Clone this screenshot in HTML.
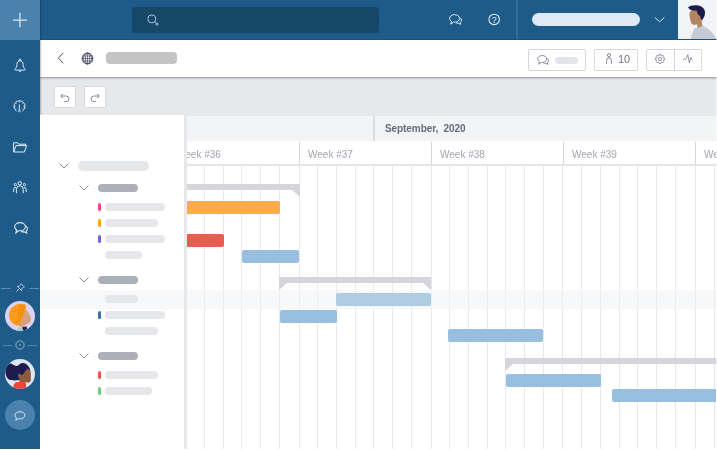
<!DOCTYPE html>
<html><head><meta charset="utf-8">
<style>
*{box-sizing:border-box;margin:0;padding:0}
html,body{width:717px;height:450px;overflow:hidden;background:#fff;font-family:"Liberation Sans",sans-serif}
.a{position:absolute}
#root{position:relative;width:717px;height:450px;overflow:hidden;background:#fff}
.pill{position:absolute;border-radius:6px;background:#e6e7eb}
.gp{position:absolute;border-radius:4px;background:#adb0b8;height:8px;left:98px;width:40px}
.tp{position:absolute;border-radius:4px;background:#e6e7eb;height:8px;left:105px}
.mk{position:absolute;border-radius:1.5px;width:3px;height:8px;left:98px}
.bar{position:absolute;border-radius:2px;background:#98bfdf;height:13px}
.sum{position:absolute;background:#d5d6dc;height:6px}
.btn{position:absolute;background:#fff;border:1px solid #d4d6de;border-radius:2px}
svg{position:absolute;overflow:visible}
</style></head><body>
<div id="root">

<!-- toolbar grey -->
<div class="a" style="left:40px;top:77px;width:677px;height:39px;background:#e7e8ec"></div>
<!-- timeline month row -->
<div class="a" style="left:187px;top:116px;width:530px;height:25px;background:#f3f4f6"></div>
<div class="a" style="left:373px;top:116px;width:2px;height:25px;background:#dcdde3"></div>
<div class="a" style="left:385px;top:121.5px;font-size:10px;font-weight:bold;color:#666a7c;white-space:pre;line-height:14px;letter-spacing:-0.08px">September,  2020</div>
<!-- grid (svg) -->
<svg id="grid" style="left:0;top:0" width="717" height="450"><rect x="204" y="166" width="1" height="283" fill="#e8e9ee"/><rect x="223" y="166" width="1" height="283" fill="#e8e9ee"/><rect x="241" y="166" width="1" height="283" fill="#e8e9ee"/><rect x="260" y="166" width="1" height="283" fill="#e8e9ee"/><rect x="279" y="166" width="1" height="283" fill="#e8e9ee"/><rect x="299" y="166" width="1" height="283" fill="#e8e9ee"/><rect x="317" y="166" width="1" height="283" fill="#e8e9ee"/><rect x="336" y="166" width="1" height="283" fill="#e8e9ee"/><rect x="355" y="166" width="1" height="283" fill="#e8e9ee"/><rect x="373" y="166" width="1" height="283" fill="#e8e9ee"/><rect x="392" y="166" width="1" height="283" fill="#e8e9ee"/><rect x="411" y="166" width="1" height="283" fill="#e8e9ee"/><rect x="431" y="166" width="1" height="283" fill="#e8e9ee"/><rect x="449" y="166" width="1" height="283" fill="#e8e9ee"/><rect x="468" y="166" width="1" height="283" fill="#e8e9ee"/><rect x="487" y="166" width="1" height="283" fill="#e8e9ee"/><rect x="505" y="166" width="1" height="283" fill="#e8e9ee"/><rect x="524" y="166" width="1" height="283" fill="#e8e9ee"/><rect x="543" y="166" width="1" height="283" fill="#e8e9ee"/><rect x="562" y="166" width="1" height="283" fill="#e8e9ee"/><rect x="581" y="166" width="1" height="283" fill="#e8e9ee"/><rect x="600" y="166" width="1" height="283" fill="#e8e9ee"/><rect x="619" y="166" width="1" height="283" fill="#e8e9ee"/><rect x="637" y="166" width="1" height="283" fill="#e8e9ee"/><rect x="656" y="166" width="1" height="283" fill="#e8e9ee"/><rect x="675" y="166" width="1" height="283" fill="#e8e9ee"/><rect x="695" y="166" width="1" height="283" fill="#e8e9ee"/><rect x="714" y="166" width="1" height="283" fill="#e8e9ee"/></svg>
<!-- week row -->
<div class="a" style="left:187px;top:141px;width:530px;height:23px;background:#fff"></div>
<div class="a" style="left:187px;top:164px;width:530px;height:2px;background:#e4e5ea"></div>
<div class="a wk" style="left:176px">Week #36</div>
<div class="a wk" style="left:308px">Week #37</div>
<div class="a wk" style="left:440px">Week #38</div>
<div class="a wk" style="left:572px">Week #39</div>
<div class="a wk" style="left:704px">Week #40</div>
<div class="a ws" style="left:299px"></div>
<div class="a ws" style="left:431px"></div>
<div class="a ws" style="left:563px"></div>
<div class="a ws" style="left:695px"></div>
<style>
.wk{top:148px;font-size:10px;color:#a3a6b3;line-height:14px;white-space:pre}
.ws{top:142px;width:1px;height:22px;background:#d4d6de}
</style>

<!-- highlight row -->
<div class="a" style="left:40px;top:290px;width:677px;height:19px;background:rgba(240,242,246,0.55)"></div>

<!-- summary bars -->
<div class="sum" style="left:187px;top:184px;width:113px"></div>
<svg style="left:292px;top:190px" width="8" height="7"><polygon points="0,0 8,0 8,7" fill="#d5d6dc"/></svg>
<div class="sum" style="left:279px;top:277px;width:152px"></div>
<svg style="left:279px;top:283px" width="8" height="7"><polygon points="0,0 8,0 0,7" fill="#d5d6dc"/></svg>
<svg style="left:423px;top:283px" width="8" height="7"><polygon points="0,0 8,0 8,7" fill="#d5d6dc"/></svg>
<div class="sum" style="left:505px;top:358px;width:212px"></div>
<svg style="left:505px;top:364px" width="8" height="7"><polygon points="0,0 8,0 0,7" fill="#d5d6dc"/></svg>

<!-- bars -->
<div class="bar" style="left:187px;top:201px;width:93px;background:#ffab4a;border-radius:0 2px 2px 0"></div>
<div class="bar" style="left:187px;top:234px;width:37px;background:#e85d50;border-radius:0 2px 2px 0"></div>
<div class="bar" style="left:242px;top:250px;width:57px"></div>
<div class="bar" style="left:336px;top:293px;width:95px;background:#aecde3"></div>
<div class="bar" style="left:280px;top:310px;width:57px"></div>
<div class="bar" style="left:448px;top:329px;width:95px"></div>
<div class="bar" style="left:506px;top:374px;width:95px"></div>
<div class="bar" style="left:612px;top:389px;width:104px;border-radius:2px 0 0 2px"></div>

<!-- left panel -->
<div class="a" style="left:40px;top:115px;width:144px;height:175px;background:#fff"></div>
<div class="a" style="left:40px;top:309px;width:144px;height:141px;background:#fff"></div>
<div class="a" style="left:184px;top:115px;width:3px;height:335px;background:#e7e8ec"></div>

<svg style="left:59px;top:163px" width="10" height="6"><polyline points="0.5,0.5 5,5 9.5,0.5" fill="none" stroke="#8e919e" stroke-width="1"/></svg>
<div class="pill" style="left:78px;top:161px;width:71px;height:10px"></div>

<svg style="left:79px;top:185px" width="10" height="6"><polyline points="0.5,0.5 5,5 9.5,0.5" fill="none" stroke="#8e919e" stroke-width="1"/></svg>
<div class="gp" style="top:184px"></div>
<div class="mk" style="top:203px;background:#f0468a"></div><div class="tp" style="top:203px;width:60px"></div>
<div class="mk" style="top:219px;background:#ffa31a"></div><div class="tp" style="top:219px;width:53px"></div>
<div class="mk" style="top:235px;background:#7c5fe6"></div><div class="tp" style="top:235px;width:60px"></div>
<div class="tp" style="top:251px;width:37px"></div>

<svg style="left:79px;top:277px" width="10" height="6"><polyline points="0.5,0.5 5,5 9.5,0.5" fill="none" stroke="#8e919e" stroke-width="1"/></svg>
<div class="gp" style="top:276px"></div>
<div class="tp" style="top:295px;width:33px"></div>
<div class="mk" style="top:311px;background:#3a6fa5"></div><div class="tp" style="top:311px;width:60px"></div>
<div class="tp" style="top:327px;width:53px"></div>

<svg style="left:79px;top:353px" width="10" height="6"><polyline points="0.5,0.5 5,5 9.5,0.5" fill="none" stroke="#8e919e" stroke-width="1"/></svg>
<div class="gp" style="top:352px"></div>
<div class="mk" style="top:371px;background:#e85d50"></div><div class="tp" style="top:371px;width:53px"></div>
<div class="mk" style="top:387px;background:#6fcf7a"></div><div class="tp" style="top:387px;width:47px"></div>

<!-- undo redo -->
<div class="btn" style="left:54px;top:86px;width:22px;height:22px;border-color:#dadbe2"></div>
<div class="btn" style="left:84px;top:86px;width:22px;height:22px;border-color:#dadbe2"></div>
<svg style="left:60px;top:92.5px" width="10" height="10" viewBox="0 0 10 10"><path d="M3.2,0.8 L0.8,3 L3.2,5.2 M0.8,3 H6.2 A2.8,2.8 0 0 1 6.2,8.6 H4.2" fill="none" stroke="#7d808f" stroke-width="0.9"/></svg>
<svg style="left:90px;top:92.5px" width="10" height="10" viewBox="0 0 10 10"><path d="M6.8,0.8 L9.2,3 L6.8,5.2 M9.2,3 H3.8 A2.8,2.8 0 0 0 3.8,8.6 H5.8" fill="none" stroke="#7d808f" stroke-width="0.9"/></svg>

<!-- header white -->
<div class="a" style="left:40px;top:40px;width:677px;height:37px;background:#fff;box-shadow:0 1px 2px rgba(50,52,60,0.5)"></div>
<svg style="left:57px;top:52px" width="7" height="12"><polyline points="6.2,0.9 1.4,6.1 6.2,11.3" fill="none" stroke="#4b4e66" stroke-width="0.95"/></svg>
<svg style="left:80.75px;top:51.6px" width="13" height="13" viewBox="0 0 13 13"><g fill="none" stroke="#3a3d55" stroke-width="0.65"><circle cx="6.5" cy="6.5" r="5.4" stroke-width="0.95"/><ellipse cx="6.5" cy="6.5" rx="2.1" ry="5.4"/><ellipse cx="6.5" cy="6.5" rx="4.1" ry="5.4"/><path d="M6.5,1V12M1,6.5H12M1.8,4H11.2M1.8,9H11.2"/></g></svg>
<div class="a" style="left:106px;top:52px;width:71px;height:12px;border-radius:4px;background:#c4c4c4"></div>

<div class="btn" style="left:528px;top:49px;width:58px;height:22px"></div>
<svg style="left:537px;top:55px" width="12" height="10" viewBox="0 0 13 11"><g fill="none" stroke="#777a8a" stroke-width="0.95"><path d="M5.6,0.6 C2.8,0.6 0.6,2.3 0.6,4.4 C0.6,5.6 1.3,6.7 2.4,7.4 L1.7,10.2 L4.5,8.1 C4.9,8.2 5.2,8.2 5.6,8.2 C8.4,8.2 10.6,6.5 10.6,4.4 C10.6,2.3 8.4,0.6 5.6,0.6 Z"/><path d="M11,3.6 C12,4.3 12.5,5.2 12.5,6.2 C12.5,7.1 12.1,7.9 11.3,8.5 L11.8,10.3 L9.3,9.2 C8.4,9.3 7.5,9.1 6.8,8.8"/></g></svg>
<div class="a" style="left:555px;top:57px;width:23px;height:7px;border-radius:3.5px;background:#e4e5ea"></div>

<div class="btn" style="left:594px;top:49px;width:44px;height:22px"></div>
<svg style="left:606px;top:53px" width="6" height="11" viewBox="0 0 6 11"><g fill="none" stroke="#777a8a" stroke-width="0.9"><circle cx="3" cy="2.2" r="1.6"/><path d="M0.6,10.8 V7.2 A2.4,2.4 0 0 1 5.4,7.2 V10.8"/></g></svg>
<div class="a" style="left:618px;top:52px;font-size:11px;color:#6e7182;line-height:15px">10</div>

<div class="btn" style="left:646px;top:49px;width:56px;height:22px"></div>
<div class="a" style="left:674px;top:50px;width:1px;height:20px;background:#d4d6de"></div>
<svg style="left:655px;top:54px" width="10" height="10" viewBox="0 0 10 10"><g fill="none" stroke="#7a7d8c" stroke-width="0.8" stroke-linejoin="round"><circle cx="5" cy="5" r="1.6"/><path d="M4.19,0.37 L5.81,0.37 L5.84,1.50 L6.88,1.93 L7.70,1.15 L8.85,2.30 L8.07,3.12 L8.50,4.16 L9.63,4.19 L9.63,5.81 L8.50,5.84 L8.07,6.88 L8.85,7.70 L7.70,8.85 L6.88,8.07 L5.84,8.50 L5.81,9.63 L4.19,9.63 L4.16,8.50 L3.12,8.07 L2.30,8.85 L1.15,7.70 L1.93,6.88 L1.50,5.84 L0.37,5.81 L0.37,4.19 L1.50,4.16 L1.93,3.12 L1.15,2.30 L2.30,1.15 L3.12,1.93 L4.16,1.50 Z"/></g></svg>
<svg style="left:683px;top:54px" width="10" height="10" viewBox="0 0 10 10"><path d="M0.3,5.6 C0.8,4.2 1.6,4.2 2,5.2 C2.3,6 2.9,5.6 3.2,4.6 L4.8,0.6 L6.4,9 L7.8,3.4 L9.6,6.2" fill="none" stroke="#777a8a" stroke-width="0.8" stroke-linejoin="round"/></svg>

<!-- top bar -->
<div class="a" style="left:0;top:0;width:717px;height:40px;background:#1f5b88"></div>

<div class="a" style="left:132px;top:7px;width:247px;height:26px;border-radius:3px;background:#164668"></div>
<svg style="left:147px;top:14px" width="13" height="13" viewBox="0 0 13 13"><g fill="none" stroke="#b9d0e4" stroke-width="0.9"><circle cx="4.8" cy="4.9" r="4"/><path d="M7.7,7.8 L9.2,9.3"/><circle cx="10" cy="10.1" r="1.05"/></g></svg>
<svg style="left:449px;top:14px" width="13" height="11" viewBox="0 0 13 11"><g fill="none" stroke="#e4eef7" stroke-width="1"><path d="M5.6,0.6 C2.8,0.6 0.6,2.3 0.6,4.4 C0.6,5.6 1.3,6.7 2.4,7.4 L1.7,10.2 L4.5,8.1 C4.9,8.2 5.2,8.2 5.6,8.2 C8.4,8.2 10.6,6.5 10.6,4.4 C10.6,2.3 8.4,0.6 5.6,0.6 Z"/><path d="M11,3.6 C12,4.3 12.5,5.2 12.5,6.2 C12.5,7.1 12.1,7.9 11.3,8.5 L11.8,10.3 L9.3,9.2 C8.4,9.3 7.5,9.1 6.8,8.8"/></g></svg>
<svg style="left:488px;top:13px" width="13" height="13" viewBox="0 0 13 13"><circle cx="6.2" cy="6.4" r="5.2" fill="none" stroke="#eaf2f9" stroke-width="1.05"/><text x="6.2" y="9.5" font-size="9" font-family="Liberation Sans, sans-serif" fill="#eaf2f9" text-anchor="middle">?</text></svg>
<div class="a" style="left:516px;top:0;width:2px;height:39px;background:#316b9a"></div>
<div class="a" style="left:531.5px;top:13px;width:108.5px;height:13px;border-radius:6.5px;background:#ddeaf5"></div>
<svg style="left:654px;top:17px" width="11" height="6"><polyline points="0.8,0.4 5.6,4.8 10.4,0.4" fill="none" stroke="#dbe7f2" stroke-width="1"/></svg>
<!-- user avatar -->
<svg style="left:678px;top:0" width="39" height="39" viewBox="0 0 39 39">
<rect width="39" height="39" fill="#f2f3f6"/>
<path d="M12.5,39 L16,28.5 L24.5,25.7 C30,27.5 35,33 38.5,39 Z" fill="#c3ccd6"/>
<path d="M19,22 L19.5,28 L24.5,25.7 L23,18 Z" fill="#b08560"/>
<path d="M11.5,13 C11.5,9 23,9 23.5,14 L23,20 C22,24 17,25.5 14.5,24.5 C12.5,23 11.5,18 11.5,13 Z" fill="#b08560"/>
<path d="M10,7.5 C13,4.5 24,4 26.5,10 C28,14 26,18.5 23.5,20.5 L22,16 C20,15 19,12.5 18.5,10.5 C15.5,11 12,10.5 10,7.5 Z" fill="#1d1b4c"/>
</svg>

<div class="a" style="left:40px;top:38.6px;width:677px;height:1.4px;background:#1b527e"></div>
<!-- sidebar -->
<div class="a" style="left:0;top:0;width:40px;height:449px;background:#1f5b88"></div>
<div class="a" style="left:40px;top:0px;width:2px;height:115px;background:linear-gradient(90deg,rgba(0,0,0,0.25),rgba(0,0,0,0))"></div>
<div class="a" style="left:0;top:0;width:40px;height:40px;background:#4a81ad"></div>
<svg style="left:13px;top:13px" width="14" height="14"><path d="M6.9,0V14M0,7H14" stroke="#dce8f3" stroke-width="1.25" fill="none"/></svg>

<!-- bell -->
<svg style="left:14px;top:58.4px" width="12" height="15" viewBox="0 0 12 15"><g fill="none" stroke="#e3edf6" stroke-width="1" stroke-linejoin="round"><path d="M6,2.9 C3.9,2.9 2.9,4.5 2.9,6.4 C2.9,8.6 2.5,9.6 1.3,10.6 C0.7,11.2 0.9,12.1 1.7,12.1 H10.3 C11.1,12.1 11.3,11.2 10.7,10.6 C9.5,9.6 9.1,8.6 9.1,6.4 C9.1,4.5 8.1,2.9 6,2.9 Z"/><path d="M5,2.9 V2.1 a1,1 0 0 1 2,0 V2.9"/><path d="M5.1,13 Q6,14.7 6.9,13"/></g></svg>
<!-- gauge -->
<svg style="left:13.3px;top:99.5px" width="13" height="13" viewBox="0 0 13 13"><g fill="none" stroke="#e3edf6" stroke-width="1"><path d="M3.59,10.96 A5.5,5.5 0 1 1 9.41,10.96"/><path d="M6.4,4.4 V10" stroke-width="0.9"/><circle cx="6.4" cy="11" r="0.9" stroke-width="0.8"/><path d="M6.50,1.30 L6.50,2.50 M10.04,2.76 L9.19,3.61 M2.96,2.76 L3.81,3.61 M11.50,6.30 L10.30,6.30 M1.50,6.30 L2.70,6.30 M10.60,9.17 L9.61,8.48 M2.40,9.17 L3.39,8.48" stroke-width="0.7"/></g></svg>
<!-- folder -->
<svg style="left:13px;top:141.6px" width="14" height="11" viewBox="0 0 14 11"><g fill="none" stroke="#e3edf6" stroke-width="1" stroke-linejoin="round"><path d="M0.6,10 V0.8 H4.6 L5.6,2.2 H12.6 V3.6"/><path d="M0.8,10 L3,3.6 H13.6 L11.4,10 Z"/></g></svg>
<!-- people -->
<svg style="left:13px;top:181px" width="14" height="13" viewBox="0 0 14 13"><g fill="none" stroke="#e3edf6" stroke-width="1"><circle cx="6.8" cy="2.2" r="1.7"/><circle cx="2.4" cy="3.6" r="1.15"/><circle cx="11.4" cy="3.6" r="1.15"/><path d="M3.4,12.2 V8.2 A3.4,3.4 0 0 1 10.2,8.2 V12.2"/><path d="M0.6,11 V8.6 A2.3,2.3 0 0 1 3,6.4"/><path d="M13.2,11 V8.6 A2.3,2.3 0 0 0 10.8,6.4"/></g></svg>
<!-- chat -->
<svg style="left:13.5px;top:222px" width="14" height="11.8" viewBox="0 0 13 11"><g fill="none" stroke="#e3edf6" stroke-width="1"><path d="M5.6,0.6 C2.8,0.6 0.6,2.3 0.6,4.4 C0.6,5.6 1.3,6.7 2.4,7.4 L1.7,10.2 L4.5,8.1 C4.9,8.2 5.2,8.2 5.6,8.2 C8.4,8.2 10.6,6.5 10.6,4.4 C10.6,2.3 8.4,0.6 5.6,0.6 Z"/><path d="M11,3.6 C12,4.3 12.5,5.2 12.5,6.2 C12.5,7.1 12.1,7.9 11.3,8.5 L11.8,10.3 L9.3,9.2 C8.4,9.3 7.5,9.1 6.8,8.8"/></g></svg>

<!-- pin -->
<div class="a" style="left:1px;top:288px;width:10px;height:1px;background:#568fba"></div>
<div class="a" style="left:29px;top:288px;width:10px;height:1px;background:#568fba"></div>
<svg style="left:16px;top:283px" width="9" height="9" viewBox="0 0 9 9"><g fill="none" stroke="#cfe0ee" stroke-width="0.8" stroke-linejoin="round"><path d="M5,0.6 L8.4,4 L7.2,4.4 L5.6,6 L5.6,7.6 L1.4,3.4 L3,3.4 L4.6,1.8 Z"/><path d="M3.4,5.6 L0.5,8.5"/></g></svg>
<!-- avatar 1 -->
<svg style="left:5px;top:301px" width="30" height="30" viewBox="0 0 30 30">
<defs><clipPath id="c1"><circle cx="15" cy="15" r="15"/></clipPath></defs>
<g clip-path="url(#c1)"><rect width="30" height="30" fill="#dcd3f2"/>
<path d="M21,8.2 C23,11 25.6,14.5 26,17.8 C26.3,20.6 23.6,23 20.4,23.4 L18.8,26.4 L13.5,25 Z" fill="#d7a17e"/>
<path d="M10.6,30 C11.8,28 13.5,26.3 16.6,26.4 L18.4,27.6 L17.8,30 Z" fill="#9ed3cd"/>
<path d="M17.2,26.2 L21.6,25.6 L22,28.2 L18.2,29.4 Z" fill="#1d1b4c"/>
<path d="M9.4,4.8 C11,3.3 14,2.6 16.2,2.8 L21,3.8 L21,8.2 L14.4,24.4 L12.2,24.6 C8,24 4,19.5 4,13.8 C4,9.6 6.5,6.4 9.4,4.8 Z" fill="#ff9b1c"/>
<path d="M14.6,3 L12.4,22 M17,3.2 L14.6,21 M19.2,3.6 L16.6,17" stroke="#e3820c" stroke-width="0.8" fill="none"/>
</g></svg>
<!-- clock -->
<div class="a" style="left:3px;top:345px;width:9px;height:1px;background:#4d86b2"></div>
<div class="a" style="left:28px;top:345px;width:9px;height:1px;background:#4d86b2"></div>
<svg style="left:15.3px;top:340.4px" width="10" height="10" viewBox="0 0 10 10"><g fill="none" stroke="#b4cde2" stroke-width="0.7"><circle cx="5" cy="5" r="4.15"/><path d="M5.9,3.8 L5,5.3 L3.9,5.3"/></g></svg>
<!-- avatar 2 -->
<svg style="left:5px;top:359px" width="30" height="30" viewBox="0 0 30 30">
<defs><clipPath id="c2"><circle cx="15" cy="15" r="15"/></clipPath></defs>
<g clip-path="url(#c2)"><rect width="30" height="30" fill="#dde7f1"/>
<path d="M8.2,30 C8.2,25.5 9.5,23 13,23 H19 C21,23 21.3,25 21,30 Z" fill="#f5423b"/>
<path d="M22.2,10 C24.2,10 25.8,11.6 25.8,14 L25.8,21.5 C25.6,23 24.5,23.6 23,23.4 L14.4,23 L14.2,16 L18.2,15.8 Z" fill="#8e5a3b"/>
<circle cx="14.4" cy="16.2" r="1.6" fill="#8e5a3b"/>
<path d="M0.3,8 C2,5 4,4 6,4.6 C8,5.4 10,7.4 12.2,7 C13.5,6.2 15.5,4 17.8,4 C20.8,4 23.6,6 25.4,11.4 L22.2,10 L18.2,15.8 L15.8,16 C15.2,14 13,14.4 13,16.4 C13,17.4 13.6,17.8 14.4,17.8 L14.6,21 C11,21.6 6,21.6 3.4,20.2 C1,18 -0.5,12 0.3,8 Z" fill="#1e1a4d"/>
</g></svg>
<!-- chat circle -->
<div class="a" style="left:5px;top:400.4px;width:30px;height:30px;border-radius:15px;background:#4a81ad"></div>
<svg style="left:13.6px;top:410.7px" width="11.5" height="10.5" viewBox="0 0 12 11"><path d="M6.2,0.7 C3.4,0.7 1,2.3 1,4.5 C1,5.6 1.6,6.5 2.5,7.2 L1.9,9.8 L4.4,8.1 C5,8.3 5.6,8.3 6.2,8.3 C9,8.3 11.3,6.6 11.3,4.5 C11.3,2.3 9,0.7 6.2,0.7 Z" fill="none" stroke="#e3edf6" stroke-width="1"/></svg>

<!-- right/bottom white edge -->
<div class="a" style="left:716px;top:0;width:1px;height:450px;background:rgba(255,255,255,0.6)"></div>
<div class="a" style="left:0;top:449px;width:717px;height:1px;background:#fff"></div>
</div>
</body></html>
